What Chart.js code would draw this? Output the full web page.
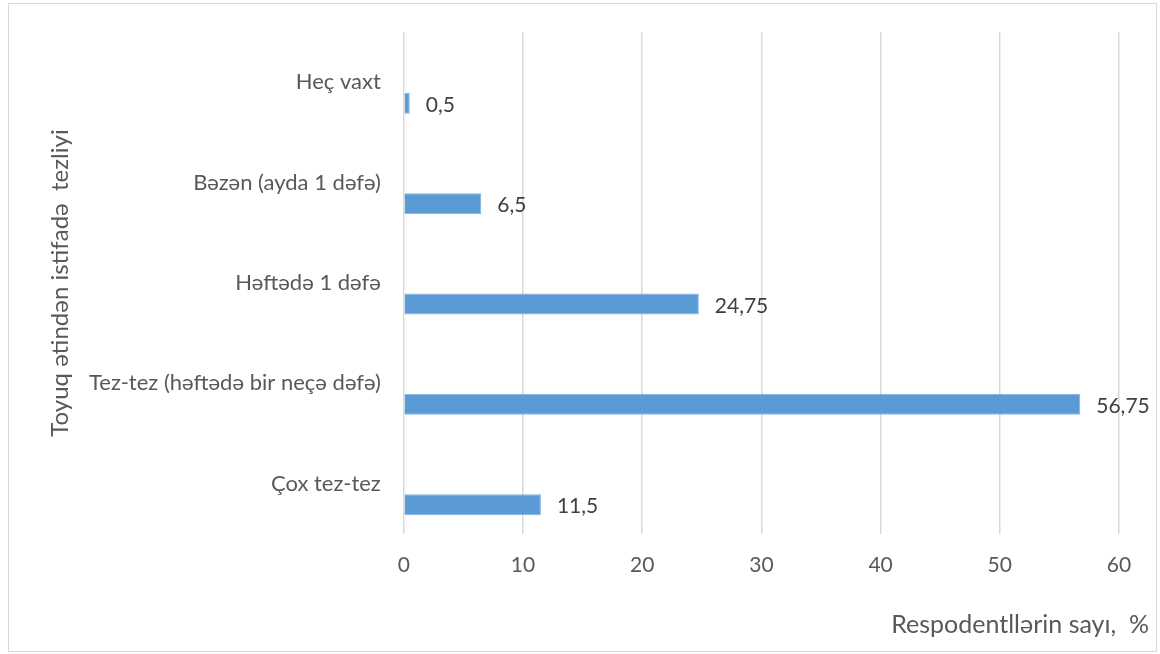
<!DOCTYPE html>
<html>
<head>
<meta charset="utf-8">
<script src="https://cdn.jsdelivr.net/npm/chart.js@4"></script>
<style>
  html, body { margin: 0; padding: 0; background: #fff; }
  #box {
    position: absolute; left: 8px; top: 3px;
    width: 1147px; height: 647px;
    border: 1px solid #d9d9d9;
  }
</style>
</head>
<body>
<div id="box"><canvas id="grafico"></canvas></div>
<script>
// kateqoriyalar (yuxarıdan aşağı)
const categories = [
    "Heç vaxt",
    "Bəzən (ayda 1 dəfə)",
    "Həftədə 1 dəfə",
    "Tez-tez (həftədə bir neçə dəfə)",
    "Çox tez-tez"
];
const values = [0.5, 6.5, 24.75, 56.75, 11.5];
// Excel-dəki boş seriya (bar kateqoriyanın altına düşür)
const emptySeries = [null, null, null, null, null];
const xTicks = [0, 10, 20, 30, 40, 50, 60];
const xTitle = "Respodentllərin sayı,  %";
const yTitle = "Toyuq ətindən istifadə  tezliyi";

const fontFamily = "Lato, 'Open Sans', sans-serif";
const textColor = "#595959";

// bar sonunda dəyər yazısı + oxların adları
const valueLabels = {
    id: "valueLabels",
    afterDatasetsDraw(chart) {
        const ctx = chart.ctx;
        const area = chart.chartArea;
        const meta = chart.getDatasetMeta(1);
        ctx.save();
        ctx.font = "21px " + fontFamily;
        ctx.fillStyle = "#404040";
        ctx.textBaseline = "middle";
        ctx.textAlign = "left";
        meta.data.forEach((bar, i) => {
            const txt = String(values[i]).replace(".", ",");
            ctx.fillText(txt, bar.x + 16, bar.y + 2);
        });

        ctx.fillStyle = textColor;

        // X oxu - sağ aşağı küncdə
        ctx.font = "25px " + fontFamily;
        ctx.textAlign = "right";
        ctx.fillText(xTitle, chart.width - 7, chart.height - 26);

        // Y oxu - fırladılmış
        ctx.font = "24px " + fontFamily;
        ctx.textAlign = "center";
        ctx.translate(51, (area.top + area.bottom) / 2);
        ctx.rotate(-Math.PI / 2);
        ctx.fillText(yTitle, 0, 0);
        ctx.restore();
    }
};

window.onload = () => {
    const ctx = document.getElementById("grafico").getContext("2d");

    new Chart(ctx, {
        type: "bar",
        data: {
            labels: categories,
            datasets: [
                { data: emptySeries, backgroundColor: "rgba(0,0,0,0)" },
                {
                    data: values,
                    backgroundColor: "#5b9bd5",
                    borderColor: "#7fb0e0",
                    borderWidth: 1
                }
            ]
        },
        options: {
            indexAxis: "y",
            responsive: true,
            maintainAspectRatio: false,
            animation: false,
            categoryPercentage: 0.837,
            barPercentage: 0.5,
            layout: { padding: { top: 20, right: 37, left: 65, bottom: 54 } },
            plugins: {
                legend: { display: false },
                tooltip: { enabled: false }
            },
            scales: {
                x: {
                    min: 0,
                    max: 60,
                    afterBuildTicks: (axis) => {
                        axis.ticks = xTicks.map(v => ({ value: v }));
                    },
                    grid: { color: "#d9d9d9", lineWidth: 1.5, drawTicks: false },
                    border: { display: false },
                    ticks: {
                        color: textColor,
                        padding: 19,
                        font: { family: fontFamily, size: 21 }
                    }
                },
                y: {
                    grid: { display: false },
                    border: { display: false },
                    ticks: {
                        color: textColor,
                        padding: 15,
                        font: { family: fontFamily, size: 22 }
                    }
                }
            }
        },
        plugins: [valueLabels]
    });
};
</script>
</body>
</html>
